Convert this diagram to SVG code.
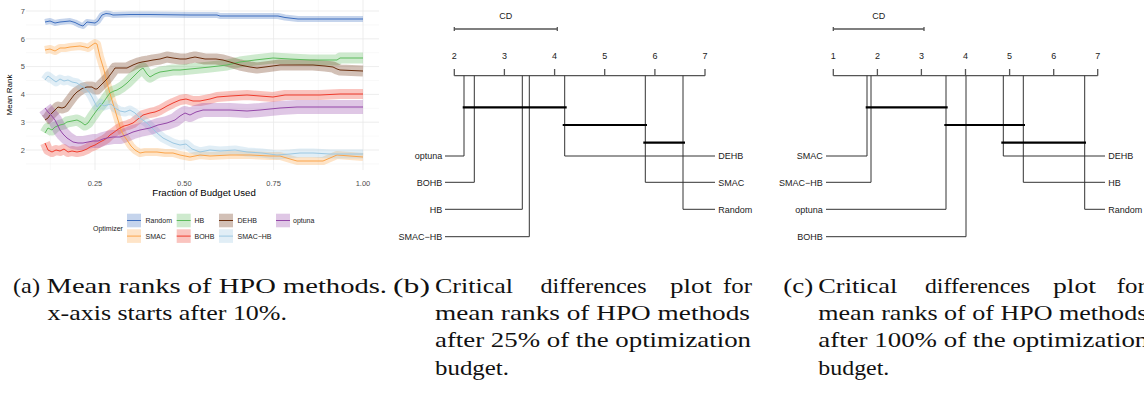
<svg xmlns="http://www.w3.org/2000/svg" xmlns:xlink="http://www.w3.org/1999/xlink" width="1144" height="395" viewBox="0 0 1144 395">
<style>
.sans{font-family:"Liberation Sans",Arial,sans-serif}
.axt{font-size:7.5px;fill:#4d4d4d}
.leg{font-size:7px;fill:#1a1a1a}
.gmaj{stroke:#e8e8e8;stroke-width:0.8}
.gmin{stroke:#f2f2f2;stroke-width:0.5}
.rib{fill:none;stroke-opacity:.3;stroke-linejoin:round;stroke-linecap:butt}
.ln{fill:none;stroke-width:1;stroke-linejoin:round}
.random{stroke:#3E6FBF}.smac{stroke:#FBA44A}.hb{stroke:#5CBB5C}.dehb{stroke:#6B2F0E}.bohb{stroke:#EF3B2C}.smachb{stroke:#9CC8E2}.optuna{stroke:#9447A8}
.cdt{font-size:9px;fill:#222}
.cdax{stroke:#555;stroke-width:1.3;fill:none}
.cdl{stroke:#333;stroke-width:1;fill:none}
.clq{stroke:#000;stroke-width:2.2}
.cap{font-family:"Liberation Serif","Times New Roman",serif;font-size:21px;fill:#111}
</style>
<defs>
<path id="s-random" d="M45,22 L50,21 L55,23 L60,22 L65,21.5 L70,21 L75,22.5 L80,25 L83,26 L87,22 L91,22.5 L95,23 L98,21 L102,15 L106,13.5 L110,14 L113,15 L130,14.5 L150,14.5 L190,15 L217,15 L220,16 L278,16 L285,17.5 L298,19 L363,19"/>
<path id="s-smac" d="M45,50 L50,49 L55,51 L60,48 L65,48 L70,47 L75,46.5 L80,46 L85,47 L88,48 L92,45 L95,43 L97,44 L100,57 L104,70 L107,83 L111,97 L115,110 L118,120 L121,130 L124,136 L127,140 L131,146 L135,150 L140,153 L145,152 L150,152 L157,152 L165,153 L173,153 L180,155 L190,157 L200,155 L210,156 L230,155 L250,155 L270,156 L280,156 L290,159 L297,161 L323,161 L330,158 L337,155 L350,156 L363,157"/>
<path id="s-smachb" d="M45,80 L48,76 L52,79 L56,82 L60,79 L64,81 L68,80 L72,82 L77,83 L81,86 L85,88 L89,92 L92,97 L95,103 L97,107 L100,103 L104,106 L107,105 L111,104 L115,108 L120,111 L125,112 L130,110 L135,113 L140,118 L147,123 L152,128 L157,133 L163,138 L167,140 L173,143 L180,145 L186,144 L192,149 L200,152 L210,150 L220,151 L235,150 L247,152 L262,153 L277,155 L290,154 L300,153 L313,153 L330,154 L345,154 L363,154"/>
<path id="s-hb" d="M45,133 L48,128 L52,130 L55,127 L60,125 L64,124 L67,122 L72,121 L77,120 L81,122 L85,125 L88,123 L92,117 L97,110 L103,103 L107,97 L110,93 L114,91 L117,90 L122,87 L127,83 L132,78 L137,73 L140,70 L143,68 L147,74 L150,77 L155,74 L160,72 L167,71 L173,70 L180,70 L190,69 L200,68 L210,67 L227,65 L240,62 L255,60 L273,58 L290,59 L310,60 L337,60 L340,58 L363,58"/>
<path id="s-dehb" d="M45,120 L48,118 L50,115 L54,111 L58,107 L62,108 L65,107 L68,103 L71,99 L74,95 L77,92 L80,90 L83,88 L87,87 L92,87 L95,89 L97,89 L100,86 L103,83 L107,79 L110,75 L113,71 L115,68 L120,68 L127,68 L133,65 L138,63 L142,62 L148,61 L153,60 L160,59 L167,57 L173,58 L180,59 L186,59 L190,58 L195,57 L200,58 L205,59 L216,59 L223,60 L230,62 L240,65 L250,67 L257,68 L265,67 L280,65 L313,65 L325,66 L333,67 L337,69 L340,70 L363,71"/>
<path id="s-bohb" d="M45,143 L48,150 L52,152 L56,150 L60,151 L64,149 L68,152 L72,151 L77,152 L82,151 L87,149 L90,147 L95,145 L100,142 L104,140 L107,138 L110,135 L113,133 L117,130 L120,128 L124,126 L128,125 L133,123 L138,119 L143,115 L150,113 L155,112 L160,110 L167,106 L173,103 L180,100 L186,99 L193,101 L200,101 L210,99 L217,97 L230,96 L247,95 L260,96 L273,97 L285,95 L320,95 L340,94 L363,94"/>
<path id="s-optuna" d="M45,108 L48,112 L51,115 L55,120 L58,126 L60,130 L63,134 L67,138 L70,140 L73,142 L78,143 L83,143 L88,142 L93,141 L98,141 L103,139 L107,138 L113,137 L120,137 L126,135 L133,132 L140,130 L150,128 L158,125 L167,123 L175,120 L180,116 L185,113 L190,115 L196,112 L203,110 L230,110 L247,111 L260,110 L280,108 L297,107 L363,107"/>
</defs>

<g id="panel-a">
  <g id="grid">
    <line class="gmin" x1="26" x2="379" y1="24.9" y2="24.9"/>
    <line class="gmin" x1="26" x2="379" y1="52.7" y2="52.7"/>
    <line class="gmin" x1="26" x2="379" y1="80.5" y2="80.5"/>
    <line class="gmin" x1="26" x2="379" y1="108.3" y2="108.3"/>
    <line class="gmin" x1="26" x2="379" y1="136.1" y2="136.1"/>
    <line class="gmin" x1="26" x2="379" y1="163.9" y2="163.9"/>
    <line class="gmin" x1="50.3" x2="50.3" y1="0" y2="170"/>
    <line class="gmin" x1="139.7" x2="139.7" y1="0" y2="170"/>
    <line class="gmin" x1="229" x2="229" y1="0" y2="170"/>
    <line class="gmin" x1="318.3" x2="318.3" y1="0" y2="170"/>
    <line class="gmaj" x1="26" x2="379" y1="11" y2="11"/>
    <line class="gmaj" x1="26" x2="379" y1="38.8" y2="38.8"/>
    <line class="gmaj" x1="26" x2="379" y1="66.6" y2="66.6"/>
    <line class="gmaj" x1="26" x2="379" y1="94.4" y2="94.4"/>
    <line class="gmaj" x1="26" x2="379" y1="122.2" y2="122.2"/>
    <line class="gmaj" x1="26" x2="379" y1="150" y2="150"/>
    <line class="gmaj" x1="95" x2="95" y1="0" y2="170"/>
    <line class="gmaj" x1="184.3" x2="184.3" y1="0" y2="170"/>
    <line class="gmaj" x1="273.6" x2="273.6" y1="0" y2="170"/>
    <line class="gmaj" x1="363" x2="363" y1="0" y2="170"/>
  </g>
  <g id="ribbons">
    <use xlink:href="#s-random" href="#s-random" class="rib random" stroke-width="6"/>
    <use xlink:href="#s-smac" href="#s-smac" class="rib smac" stroke-width="8"/>
    <use xlink:href="#s-hb" href="#s-hb" class="rib hb" stroke-width="11"/>
    <use xlink:href="#s-dehb" href="#s-dehb" class="rib dehb" stroke-width="11"/>
    <use xlink:href="#s-bohb" href="#s-bohb" class="rib bohb" stroke-width="10"/>
    <use xlink:href="#s-smachb" href="#s-smachb" class="rib smachb" stroke-width="9"/>
    <use xlink:href="#s-optuna" href="#s-optuna" class="rib optuna" stroke-width="14"/>
  </g>
  <g id="lines">
    <use xlink:href="#s-random" href="#s-random" class="ln random"/>
    <use xlink:href="#s-smac" href="#s-smac" class="ln smac"/>
    <use xlink:href="#s-hb" href="#s-hb" class="ln hb"/>
    <use xlink:href="#s-dehb" href="#s-dehb" class="ln dehb"/>
    <use xlink:href="#s-bohb" href="#s-bohb" class="ln bohb"/>
    <use xlink:href="#s-smachb" href="#s-smachb" class="ln smachb"/>
    <use xlink:href="#s-optuna" href="#s-optuna" class="ln optuna"/>
  </g>
  <g id="axes" class="sans">
    <text class="axt" x="25" y="13.7" text-anchor="end">7</text>
    <text class="axt" x="25" y="41.5" text-anchor="end">6</text>
    <text class="axt" x="25" y="69.3" text-anchor="end">5</text>
    <text class="axt" x="25" y="97.1" text-anchor="end">4</text>
    <text class="axt" x="25" y="124.9" text-anchor="end">3</text>
    <text class="axt" x="25" y="152.7" text-anchor="end">2</text>
    <text class="axt" x="95" y="185.5" text-anchor="middle">0.25</text>
    <text class="axt" x="184.3" y="185.5" text-anchor="middle">0.50</text>
    <text class="axt" x="273.6" y="185.5" text-anchor="middle">0.75</text>
    <text class="axt" x="363" y="185.5" text-anchor="middle">1.00</text>
    <text x="204" y="195.5" text-anchor="middle" font-size="9.6" fill="#000">Fraction of Budget Used</text>
    <text transform="translate(11.5,95) rotate(-90)" text-anchor="middle" font-size="8" fill="#000">Mean Rank</text>
  </g>
  <g id="legend" class="sans">
    <text class="leg" x="93" y="231">Optimizer</text>
    <g id="leg-random"><rect x="127" y="213.7" width="14" height="13.6" fill="#3E6FBF" fill-opacity=".3"/><line class="ln random" x1="127" x2="141" y1="220.5" y2="220.5"/><text class="leg" x="145.5" y="223">Random</text></g>
    <g id="leg-smac"><rect x="127" y="229.3" width="14" height="13.6" fill="#FBA44A" fill-opacity=".3"/><line class="ln smac" x1="127" x2="141" y1="236.1" y2="236.1"/><text class="leg" x="145.5" y="238.6">SMAC</text></g>
    <g id="leg-hb"><rect x="176.7" y="213.7" width="14" height="13.6" fill="#5CBB5C" fill-opacity=".3"/><line class="ln hb" x1="176.7" x2="190.7" y1="220.5" y2="220.5"/><text class="leg" x="194.5" y="223">HB</text></g>
    <g id="leg-bohb"><rect x="176.7" y="229.3" width="14" height="13.6" fill="#EF3B2C" fill-opacity=".3"/><line class="ln bohb" x1="176.7" x2="190.7" y1="236.1" y2="236.1"/><text class="leg" x="194.5" y="238.6">BOHB</text></g>
    <g id="leg-dehb"><rect x="219" y="213.7" width="14" height="13.6" fill="#6B2F0E" fill-opacity=".3"/><line class="ln dehb" x1="219" x2="233" y1="220.5" y2="220.5"/><text class="leg" x="237.5" y="223">DEHB</text></g>
    <g id="leg-smachb"><rect x="219" y="229.3" width="14" height="13.6" fill="#9CC8E2" fill-opacity=".3"/><line class="ln smachb" x1="219" x2="233" y1="236.1" y2="236.1"/><text class="leg" x="237.5" y="238.6">SMAC−HB</text></g>
    <g id="leg-optuna"><rect x="276" y="213.7" width="14" height="13.6" fill="#9447A8" fill-opacity=".3"/><line class="ln optuna" x1="276" x2="290" y1="220.5" y2="220.5"/><text class="leg" x="293" y="223">optuna</text></g>
  </g>
</g>

<g id="panel-b" class="sans">
  <g id="b-cd">
    <text class="cdt" x="505.7" y="19.2" text-anchor="middle">CD</text>
    <path class="cdax" d="M454.3,29 H557.3 M454.3,27 V31 M557.3,27 V31"/>
  </g>
  <g id="b-axis">
    <path class="cdax" d="M454.3,75.7 H705 M454.3,69 V75.7 M504.4,69 V75.7 M554.6,69 V75.7 M604.7,69 V75.7 M654.9,69 V75.7 M705,69 V75.7"/>
    <text class="cdt" x="454.3" y="59.2" text-anchor="middle">2</text>
    <text class="cdt" x="504.4" y="59.2" text-anchor="middle">3</text>
    <text class="cdt" x="554.6" y="59.2" text-anchor="middle">4</text>
    <text class="cdt" x="604.7" y="59.2" text-anchor="middle">5</text>
    <text class="cdt" x="654.9" y="59.2" text-anchor="middle">6</text>
    <text class="cdt" x="705" y="59.2" text-anchor="middle">7</text>
  </g>
  <g id="b-connectors">
    <path class="cdl" d="M464,75.7 V156 H445"/>
    <path class="cdl" d="M474.3,75.7 V182.3 H445"/>
    <path class="cdl" d="M522.3,75.7 V209.3 H445"/>
    <path class="cdl" d="M529.3,75.7 V236.7 H445"/>
    <path class="cdl" d="M564.7,75.7 V156 H715"/>
    <path class="cdl" d="M645.3,75.7 V182.3 H715"/>
    <path class="cdl" d="M683,75.7 V209.3 H715"/>
    <line class="clq" x1="462.7" x2="566.7" y1="107.3" y2="107.3"/>
    <line class="clq" x1="562.7" x2="647" y1="125" y2="125"/>
    <line class="clq" x1="643.3" x2="685" y1="142.7" y2="142.7"/>
  </g>
  <g id="b-labels">
    <text class="cdt" x="442.3" y="159.2" text-anchor="end">optuna</text>
    <text class="cdt" x="442.3" y="185.5" text-anchor="end">BOHB</text>
    <text class="cdt" x="442.3" y="212.5" text-anchor="end">HB</text>
    <text class="cdt" x="442.3" y="239.9" text-anchor="end">SMAC−HB</text>
    <text class="cdt" x="718.3" y="159.2">DEHB</text>
    <text class="cdt" x="718.3" y="185.5">SMAC</text>
    <text class="cdt" x="718.3" y="212.5">Random</text>
  </g>
</g>

<g id="panel-c" class="sans">
  <g id="c-cd">
    <text class="cdt" x="878.7" y="19.2" text-anchor="middle">CD</text>
    <path class="cdax" d="M833.3,29 H924 M833.3,27 V31 M924,27 V31"/>
  </g>
  <g id="c-axis">
    <path class="cdax" d="M833.3,75.7 H1097.7 M833.3,69 V75.7 M877.4,69 V75.7 M921.4,69 V75.7 M965.5,69 V75.7 M1009.6,69 V75.7 M1053.7,69 V75.7 M1097.7,69 V75.7"/>
    <text class="cdt" x="833.3" y="59.2" text-anchor="middle">1</text>
    <text class="cdt" x="877.4" y="59.2" text-anchor="middle">2</text>
    <text class="cdt" x="921.4" y="59.2" text-anchor="middle">3</text>
    <text class="cdt" x="965.5" y="59.2" text-anchor="middle">4</text>
    <text class="cdt" x="1009.6" y="59.2" text-anchor="middle">5</text>
    <text class="cdt" x="1053.7" y="59.2" text-anchor="middle">6</text>
    <text class="cdt" x="1097.7" y="59.2" text-anchor="middle">7</text>
  </g>
  <g id="c-connectors">
    <path class="cdl" d="M867,75.7 V156 H826"/>
    <path class="cdl" d="M871,75.7 V182.3 H826"/>
    <path class="cdl" d="M946,75.7 V209.3 H826"/>
    <path class="cdl" d="M966,75.7 V236.7 H826"/>
    <path class="cdl" d="M1003.3,75.7 V156 H1105"/>
    <path class="cdl" d="M1023.3,75.7 V182.3 H1105"/>
    <path class="cdl" d="M1084.7,75.7 V209.3 H1105"/>
    <line class="clq" x1="865.7" x2="947.7" y1="107.3" y2="107.3"/>
    <line class="clq" x1="944.3" x2="1025" y1="125" y2="125"/>
    <line class="clq" x1="1001.3" x2="1086" y1="142.7" y2="142.7"/>
  </g>
  <g id="c-labels">
    <text class="cdt" x="822.7" y="159.2" text-anchor="end">SMAC</text>
    <text class="cdt" x="822.7" y="185.5" text-anchor="end">SMAC−HB</text>
    <text class="cdt" x="822.7" y="212.5" text-anchor="end">optuna</text>
    <text class="cdt" x="822.7" y="239.9" text-anchor="end">BOHB</text>
    <text class="cdt" x="1108.3" y="159.2">DEHB</text>
    <text class="cdt" x="1108.3" y="185.5">HB</text>
    <text class="cdt" x="1108.3" y="212.5">Random</text>
  </g>
</g>

<g id="captions" class="cap">
  <text x="13" y="292.7" textLength="27" lengthAdjust="spacingAndGlyphs">(a)</text>
  <text x="46.5" y="292.7" textLength="340.5" lengthAdjust="spacingAndGlyphs">Mean ranks of HPO methods.</text>
  <text x="47.5" y="320" textLength="239.5" lengthAdjust="spacingAndGlyphs">x-axis starts after 10%.</text>

  <text x="393" y="292.7" textLength="37" lengthAdjust="spacingAndGlyphs">(b)</text>
  <text y="292.7"><tspan x="435" textLength="78" lengthAdjust="spacingAndGlyphs">Critical</tspan><tspan x="540.5" textLength="106" lengthAdjust="spacingAndGlyphs">differences</tspan><tspan x="670" textLength="42" lengthAdjust="spacingAndGlyphs">plot</tspan><tspan x="723" textLength="29" lengthAdjust="spacingAndGlyphs">for</tspan></text>
  <text x="435" y="320" textLength="315" lengthAdjust="spacingAndGlyphs">mean ranks of HPO methods</text>
  <text x="435" y="347.3" textLength="316" lengthAdjust="spacingAndGlyphs">after 25% of the optimization</text>
  <text x="435" y="375" textLength="74" lengthAdjust="spacingAndGlyphs">budget.</text>

  <text x="783.3" y="292.7" textLength="30" lengthAdjust="spacingAndGlyphs">(c)</text>
  <text y="292.7"><tspan x="818.3" textLength="79" lengthAdjust="spacingAndGlyphs">Critical</tspan><tspan x="925" textLength="105" lengthAdjust="spacingAndGlyphs">differences</tspan><tspan x="1053" textLength="43" lengthAdjust="spacingAndGlyphs">plot</tspan><tspan x="1116.7" textLength="29" lengthAdjust="spacingAndGlyphs">for</tspan></text>
  <text x="818.3" y="320" textLength="329" lengthAdjust="spacingAndGlyphs">mean ranks of of HPO methods</text>
  <text x="818.3" y="347.3" textLength="330" lengthAdjust="spacingAndGlyphs">after 100% of the optimization</text>
  <text x="818.3" y="375" textLength="71" lengthAdjust="spacingAndGlyphs">budget.</text>
</g>
</svg>
